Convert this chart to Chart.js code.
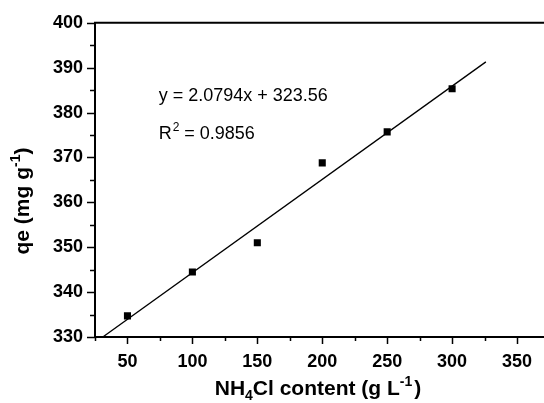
<!DOCTYPE html>
<html>
<head>
<meta charset="utf-8">
<script src="https://cdn.jsdelivr.net/npm/chart.js@4/dist/chart.umd.min.js"></script>
<style>
  html, body { margin: 0; padding: 0; background: #fff; overflow: hidden; }
  #wrap { position: relative; width: 560px; height: 403px; }
</style>
</head>
<body>
<div id="wrap"><canvas id="c" width="560" height="403"></canvas></div>
<script>
// ---- data ----
const nh4clContent = [50, 100, 150, 200, 250, 300];
const qeValues = [334.7, 344.5, 351.0, 368.8, 375.7, 385.3];
// fitted line end points as seen in the picture
const fitX = [31, 326];
const fitY = [330.0, 391.3];
const xTickValues = [50, 100, 150, 200, 250, 300, 350];
const xMinorValues = [25, 75, 125, 175, 225, 275, 325, 375];
const yTickValues = [330, 340, 350, 360, 370, 380, 390, 400];
const yMinorValues = [335, 345, 355, 365, 375, 385, 395];
const equationText = 'y = 2.0794x + 323.56';
const r2Value = '0.9856';

const FONT = '"Liberation Sans", Arial, Helvetica, sans-serif';

const decorPlugin = {
  id: 'decor',
  afterDraw(chart) {
    const ctx = chart.ctx;
    const xs = chart.scales.x, ys = chart.scales.y;
    const ca = chart.chartArea;
    ctx.save();
    ctx.strokeStyle = '#000';
    ctx.fillStyle = '#000';
    // top and right frame lines
    ctx.lineWidth = 2;
    ctx.beginPath();
    ctx.moveTo(ca.left - 1, ca.top);
    ctx.lineTo(ca.right + 1, ca.top);
    ctx.moveTo(ca.right, ca.top);
    ctx.lineTo(ca.right, ca.bottom);
    ctx.stroke();
    // ticks
    ctx.lineWidth = 1.5;
    ctx.beginPath();
    xTickValues.forEach(v => { const p = Math.round(xs.getPixelForValue(v)) + 0.5; ctx.moveTo(p, ca.bottom); ctx.lineTo(p, ca.bottom + 7); });
    xMinorValues.forEach(v => { const p = Math.round(xs.getPixelForValue(v)) + 0.5; ctx.moveTo(p, ca.bottom); ctx.lineTo(p, ca.bottom + 4); });
    yTickValues.forEach(v => { const p = Math.round(ys.getPixelForValue(v)) + 0.5; ctx.moveTo(ca.left, p); ctx.lineTo(ca.left - 8, p); });
    yMinorValues.forEach(v => { const p = Math.round(ys.getPixelForValue(v)) + 0.5; ctx.moveTo(ca.left, p); ctx.lineTo(ca.left - 5, p); });
    ctx.stroke();

    // annotation texts (anchored in data coordinates)
    ctx.textBaseline = 'middle';
    ctx.textAlign = 'left';
    ctx.font = '18px ' + FONT;
    const ex = xs.getPixelForValue(74);
    ctx.fillText(equationText, ex, ys.getPixelForValue(383.7));
    const ry = ys.getPixelForValue(375.3);
    ctx.fillText('R', ex, ry);
    let w = ctx.measureText('R').width;
    ctx.font = '12px ' + FONT;
    ctx.fillText('2', ex + w + 1, ry - 6);
    w += 1 + ctx.measureText('2').width;
    ctx.font = '18px ' + FONT;
    ctx.fillText(' = ' + r2Value, ex + w, ry);

    // x-axis title: NH4Cl content (g L-1)
    const big = 'bold 21px ' + FONT, small = 'bold 14px ' + FONT;
    const parts = [
      ['NH', big, 0], ['4', small, 5], ['Cl content (g L', big, 0], ['-1', small, -9], [')', big, 0]
    ];
    function drawParts(cx, cy) {
      let total = 0;
      parts.forEach(p => { ctx.font = p[1]; total += ctx.measureText(p[0]).width; });
      total += 2;
      let x = cx - total / 2;
      parts.forEach((p, i) => {
        ctx.font = p[1];
        ctx.fillText(p[0], x, cy + p[2]);
        x += ctx.measureText(p[0]).width + (i === 3 ? 2 : 0);
      });
    }
    ctx.textBaseline = 'alphabetic';
    drawParts(318, 395);

    // y-axis title: qe (mg g-1)
    ctx.save();
    ctx.translate(29, 201);
    ctx.rotate(-Math.PI / 2);
    const yparts = [['qe (mg g', big, 0], ['-1', small, -9], [')', big, 0]];
    let tot = 0;
    yparts.forEach(p => { ctx.font = p[1]; tot += ctx.measureText(p[0]).width; });
    let x = -tot / 2;
    yparts.forEach(p => { ctx.font = p[1]; ctx.fillText(p[0], x, p[2]); x += ctx.measureText(p[0]).width; });
    ctx.restore();
    ctx.restore();
  }
};

new Chart(document.getElementById('c'), {
  type: 'scatter',
  data: {
    datasets: [
      {
        label: 'qe',
        data: nh4clContent.map((x, i) => ({ x: x, y: qeValues[i] })),
        pointStyle: 'rect',
        pointRadius: 5,
        pointHoverRadius: 5,
        backgroundColor: '#000',
        borderColor: '#000',
        borderWidth: 0,
        showLine: false
      },
      {
        label: 'fit',
        data: fitX.map((x, i) => ({ x: x, y: fitY[i] })),
        showLine: true,
        pointRadius: 0,
        borderColor: '#000',
        borderWidth: 1.3,
        fill: false
      }
    ]
  },
  options: {
    responsive: false,
    animation: false,
    devicePixelRatio: 1,
    layout: { padding: { left: 0, right: 10.5, top: 20, bottom: 0 } },
    plugins: { legend: { display: false }, tooltip: { enabled: false }, title: { display: false } },
    scales: {
      x: {
        type: 'linear',
        min: 25, max: 375,
        afterBuildTicks: s => { s.ticks = xTickValues.map(v => ({ value: v })); },
        afterFit: s => { s.height = 66; },
        grid: { display: false, drawTicks: false },
        border: { display: true, color: '#000', width: 2 },
        ticks: { color: '#000', font: { family: FONT, size: 18, weight: 'bold' }, padding: 14, maxRotation: 0, autoSkip: false }
      },
      y: {
        type: 'linear',
        min: 330, max: 400,
        afterBuildTicks: s => { s.ticks = yTickValues.map(v => ({ value: v })); },
        afterFit: s => { s.width = 95; },
        grid: { display: false, drawTicks: false },
        border: { display: true, color: '#000', width: 2 },
        ticks: { color: '#000', font: { family: FONT, size: 18, weight: 'bold' }, padding: 12, autoSkip: false }
      }
    }
  },
  plugins: [decorPlugin]
});
</script>
</body>
</html>
